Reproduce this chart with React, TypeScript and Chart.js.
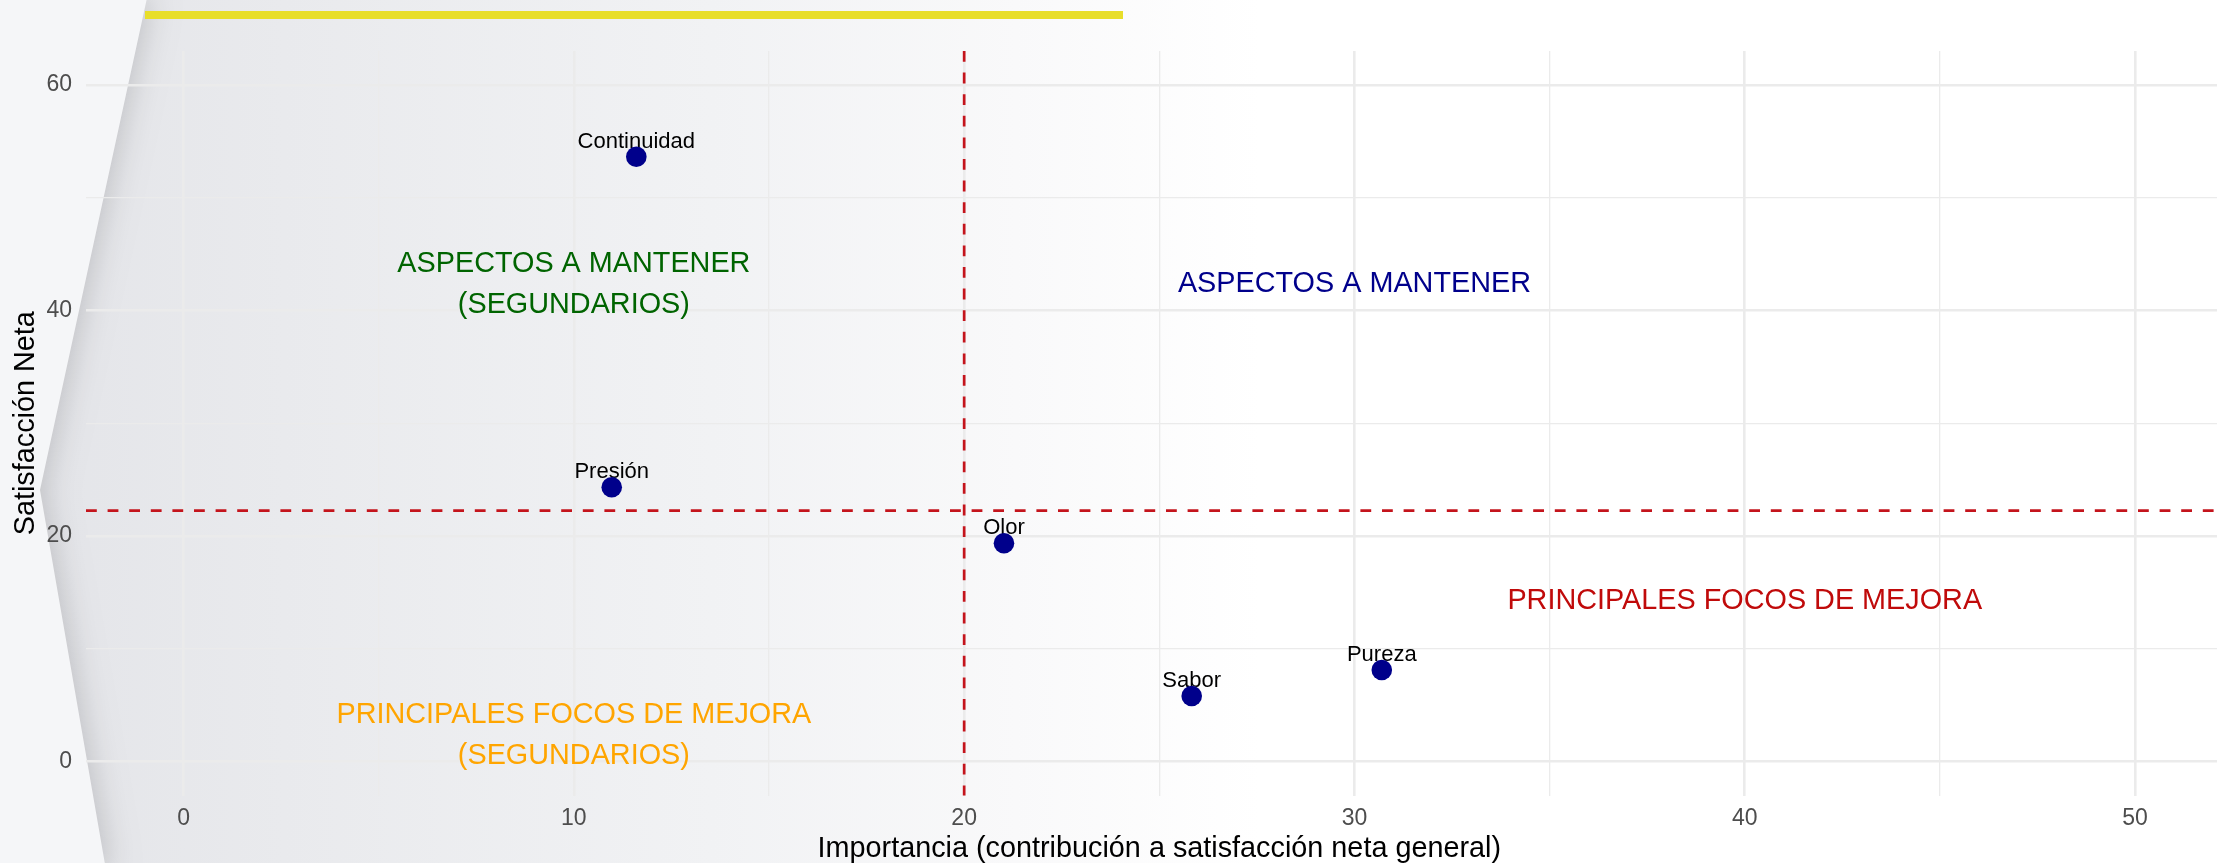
import React, { useEffect, useRef } from 'react';
import { Chart, registerables } from 'chart.js';

Chart.register(...registerables);

// ---------- data ----------
const attributes = ['Continuidad', 'Presión', 'Olor', 'Sabor', 'Pureza'];
const importance = [11.6, 10.97, 21.02, 25.83, 30.7];
const netSatisfaction = [53.63, 24.33, 19.36, 5.82, 8.13];

const xMajorTicks = [0, 10, 20, 30, 40, 50];
const xMinorTicks = [5, 15, 25, 35, 45];
const yMajorTicks = [0, 20, 40, 60];
const yMinorTicks = [10, 30, 50];

const importanceThreshold = 20;
const satisfactionThreshold = 22.25;

const quadrantLines = [
  ['ASPECTOS A MANTENER', '(SEGUNDARIOS)'],
  ['ASPECTOS A MANTENER'],
  ['PRINCIPALES FOCOS DE MEJORA'],
  ['PRINCIPALES FOCOS DE MEJORA', '(SEGUNDARIOS)'],
];
const quadrantX = [10, 30, 40, 10];
const quadrantY = [42.3, 42.3, 14.25, 2.3];

const xTitle = 'Importancia (contribución a satisfacción neta general)';
const yTitle = 'Satisfacción Neta';

// ---------- styles ----------
const FONT = '"Liberation Sans", Arial, Helvetica, sans-serif';
const QUADRANT_COLORS = ['#006400', '#00008B', '#C00A0A', '#FFA500'];
const POINT_COLOR = '#00008B';
const DASH_COLOR = '#C4141C';
const GRID_COLOR = '#EBEBEB';

const backgroundPlugin = {
  id: 'slideBackground',
  beforeDraw(chart: any) {
    const { ctx, width, height } = chart;
    ctx.save();
    const g = ctx.createLinearGradient(40, 0, 1260, 0);
    g.addColorStop(0, '#e4e5e9');
    g.addColorStop(0.2, '#e9eaed');
    g.addColorStop(0.55, '#f1f2f4');
    g.addColorStop(0.8, '#f9f9fa');
    g.addColorStop(1, '#ffffff');
    ctx.fillStyle = g;
    ctx.fillRect(0, 0, width, height);

    ctx.beginPath();
    ctx.moveTo(-60, -10);
    ctx.lineTo(147, -2);
    ctx.lineTo(40, 490);
    ctx.lineTo(106, 870);
    ctx.lineTo(-60, 880);
    ctx.closePath();
    ctx.shadowColor = 'rgba(0,0,0,0.16)';
    ctx.shadowBlur = 30;
    ctx.shadowOffsetX = 4;
    ctx.fillStyle = '#f5f6f8';
    ctx.fill();
    ctx.restore();

    ctx.save();
    ctx.fillStyle = '#E8DE2A';
    ctx.fillRect(145, 11, 978, 8);
    ctx.restore();
  },
};

const overlayPlugin = {
  id: 'quadrantOverlay',
  beforeDatasetsDraw(chart: any) {
    const { ctx, chartArea, scales } = chart;
    const xs = scales.x;
    const ys = scales.y;
    ctx.save();

    // quadrant labels
    ctx.font = `28.8px ${FONT}`;
    ctx.textAlign = 'center';
    ctx.textBaseline = 'middle';
    quadrantLines.forEach((lines, i) => {
      const px = xs.getPixelForValue(quadrantX[i]);
      const py = ys.getPixelForValue(quadrantY[i]);
      const gap = 40.5;
      const start = py - ((lines.length - 1) * gap) / 2;
      ctx.fillStyle = QUADRANT_COLORS[i];
      lines.forEach((t, j) => ctx.fillText(t, px, start + j * gap));
    });

    // threshold lines
    ctx.strokeStyle = DASH_COLOR;
    ctx.lineWidth = 2.7;
    ctx.setLineDash([10.8, 10.8]);
    const vx = xs.getPixelForValue(importanceThreshold);
    ctx.beginPath();
    ctx.moveTo(vx, chartArea.top);
    ctx.lineTo(vx, chartArea.bottom);
    ctx.stroke();
    const hy = ys.getPixelForValue(satisfactionThreshold);
    ctx.beginPath();
    ctx.moveTo(chartArea.left, hy);
    ctx.lineTo(chartArea.right, hy);
    ctx.stroke();
    ctx.setLineDash([]);

    // point labels
    ctx.font = `22px ${FONT}`;
    ctx.fillStyle = '#000000';
    ctx.textAlign = 'center';
    ctx.textBaseline = 'alphabetic';
    attributes.forEach((name, i) => {
      const px = xs.getPixelForValue(importance[i]);
      const py = ys.getPixelForValue(netSatisfaction[i]);
      ctx.fillText(name, px, py - 9);
    });
    ctx.restore();
  },
  afterDraw(chart: any) {
    const { ctx, chartArea, scales } = chart;
    ctx.save();
    ctx.font = `28.8px ${FONT}`;
    ctx.fillStyle = '#000000';
    ctx.textAlign = 'center';
    ctx.textBaseline = 'alphabetic';
    ctx.fillText(xTitle, scales.x.getPixelForValue(25), 856.7);
    ctx.translate(33.5, (chartArea.top + chartArea.bottom) / 2);
    ctx.rotate(-Math.PI / 2);
    ctx.fillText(yTitle, 0, 0);
    ctx.restore();
  },
};

export default function App() {
  const canvasRef = useRef<HTMLCanvasElement | null>(null);

  useEffect(() => {
    if (!canvasRef.current) return;
    const isMajorX = (v: number) => xMajorTicks.includes(v);
    const isMajorY = (v: number) => yMajorTicks.includes(v);
    const chart = new Chart(canvasRef.current, {
      type: 'scatter',
      data: {
        datasets: [
          {
            data: attributes.map((_, i) => ({ x: importance[i], y: netSatisfaction[i] })),
            backgroundColor: POINT_COLOR,
            borderColor: POINT_COLOR,
            borderWidth: 0,
            pointRadius: 10.3,
            pointHoverRadius: 10.3,
          },
        ],
      },
      options: {
        responsive: false,
        animation: false,
        events: [],
        layout: { autoPadding: false, padding: { top: 51, left: 0, right: 0, bottom: 0 } },
        plugins: {
          legend: { display: false },
          tooltip: { enabled: false },
          title: { display: false },
        },
        scales: {
          x: {
            type: 'linear',
            min: -2.5,
            max: 52.1,
            bounds: 'data',
            afterBuildTicks: (s: any) => {
              s.ticks = [...xMajorTicks, ...xMinorTicks].sort((a, b) => a - b).map((v) => ({ value: v }));
            },
            afterFit: (s: any) => {
              s.height = 67.5;
              s.paddingLeft = 0;
              s.paddingRight = 0;
            },
            ticks: {
              autoSkip: false,
              maxRotation: 0,
              padding: 9,
              color: '#4D4D4D',
              font: { family: FONT, size: 23 },
              callback: (v: any) => (isMajorX(Number(v)) ? String(v) : ''),
            },
            grid: {
              drawTicks: false,
              color: GRID_COLOR,
              lineWidth: (c: any) => (c.tick && isMajorX(c.tick.value) ? 2.6 : 1.3),
            },
            border: { display: false },
          },
          y: {
            type: 'linear',
            min: -3,
            max: 63,
            bounds: 'data',
            afterBuildTicks: (s: any) => {
              s.ticks = [...yMajorTicks, ...yMinorTicks].sort((a, b) => a - b).map((v) => ({ value: v }));
            },
            afterFit: (s: any) => {
              s.width = 86;
              s.paddingTop = 0;
              s.paddingBottom = 0;
            },
            ticks: {
              autoSkip: false,
              padding: 14,
              color: '#4D4D4D',
              font: { family: FONT, size: 23 },
              callback: (v: any) => (isMajorY(Number(v)) ? String(v) : ''),
            },
            grid: {
              drawTicks: false,
              color: GRID_COLOR,
              lineWidth: (c: any) => (c.tick && isMajorY(c.tick.value) ? 2.6 : 1.3),
            },
            border: { display: false },
          },
        },
      } as any,
      plugins: [backgroundPlugin, overlayPlugin],
    });
    return () => chart.destroy();
  }, []);

  return (
    <div style={{ position: 'fixed', left: 0, top: 0, width: 2217, height: 863, overflow: 'hidden' }}>
      <canvas ref={canvasRef} width={2217} height={863} style={{ display: 'block', width: 2217, height: 863 }} />
    </div>
  );
}
